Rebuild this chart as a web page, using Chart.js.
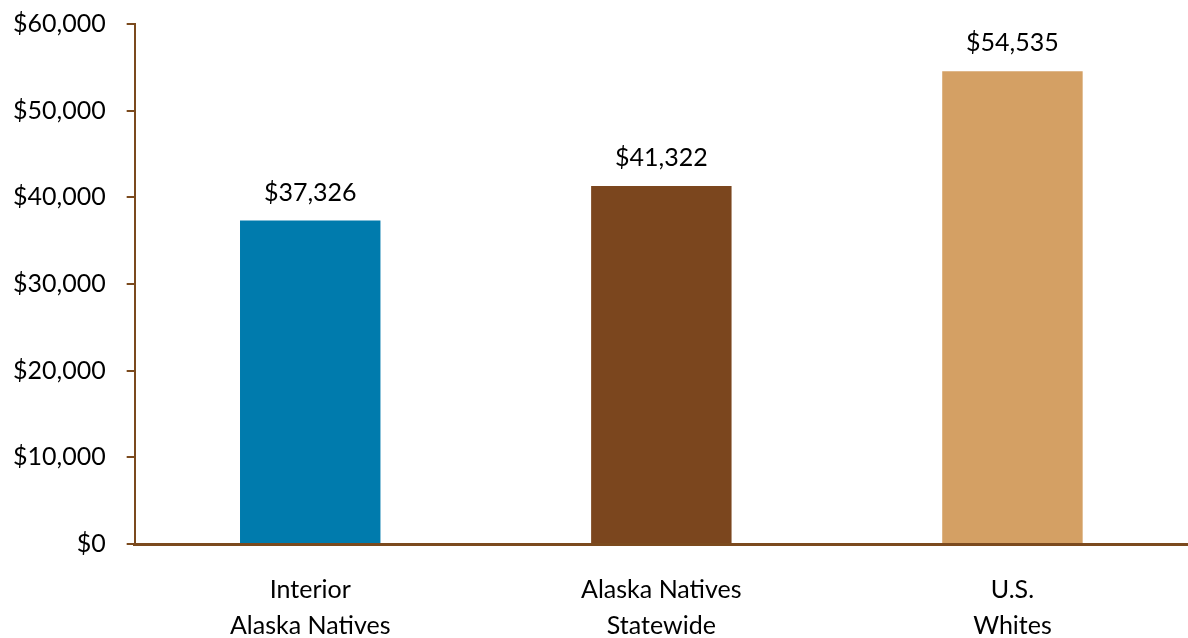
<!DOCTYPE html>
<html><head><meta charset="utf-8">
<script src="https://cdn.jsdelivr.net/npm/chart.js@4/dist/chart.umd.min.js"></script>
<style>html,body{margin:0;padding:0;background:#fff}#wrap{width:1188px;height:638px}</style>
</head><body><div id="wrap"><canvas id="c" width="1188" height="638"></canvas></div>
<script>
const categories = [["Interior", "Alaska Natives"], ["Alaska Natives", "Statewide"], ["U.S.", "Whites"]];
const incomeValues = [37326, 41322, 54535];
const barColors = ["#007BAD", "#7B461E", "#D4A064"];
const yTicks = [0, 10000, 20000, 30000, 40000, 50000, 60000];

const fmt = v => "$" + v.toLocaleString("en-US");
const FONT = "Lato, 'Open Sans', sans-serif";
const AXIS = "#7B4A1E";

const labelPlugin = {
  id: "valueLabels",
  afterDatasetsDraw(chart) {
    const ctx = chart.ctx;
    const meta = chart.getDatasetMeta(0);
    ctx.save();
    ctx.font = "25px " + FONT;
    ctx.fillStyle = "#000";
    ctx.textAlign = "center";
    ctx.textBaseline = "middle";
    meta.data.forEach((bar, i) => {
      ctx.fillText(fmt(incomeValues[i]), bar.x, bar.y - 28);
    });
    ctx.restore();
  }
};

new Chart(document.getElementById("c"), {
  type: "bar",
  data: {
    labels: categories,
    datasets: [{ data: incomeValues, backgroundColor: barColors, borderWidth: 0,
      barPercentage: 0.40, categoryPercentage: 1.0 }]
  },
  options: {
    responsive: false, animation: false,
    layout: { padding: { top: 24, right: 0, bottom: -26, left: -8 } },
    plugins: { legend: { display: false }, tooltip: { enabled: false } },
    scales: {
      x: {
        grid: { display: false },
        border: { display: true, color: AXIS, width: 3 },
        ticks: { color: "#000", font: { family: FONT, size: 25, lineHeight: 1.44 }, padding: 20, maxRotation: 0 }
      },
      y: {
        min: 0, max: 60000,
        afterBuildTicks: s => { s.ticks = yTicks.map(v => ({ value: v })); },
        afterFit: s => { s.paddingTop = 0; s.paddingBottom = 0; },
        grid: { drawOnChartArea: false, drawTicks: true, tickLength: 8, color: AXIS, lineWidth: 2 },
        border: { display: true, color: AXIS, width: 2 },
        ticks: { color: "#000", font: { family: FONT, size: 25 }, padding: 21, callback: v => fmt(v) }
      }
    }
  },
  plugins: [labelPlugin]
});
</script></body></html>
